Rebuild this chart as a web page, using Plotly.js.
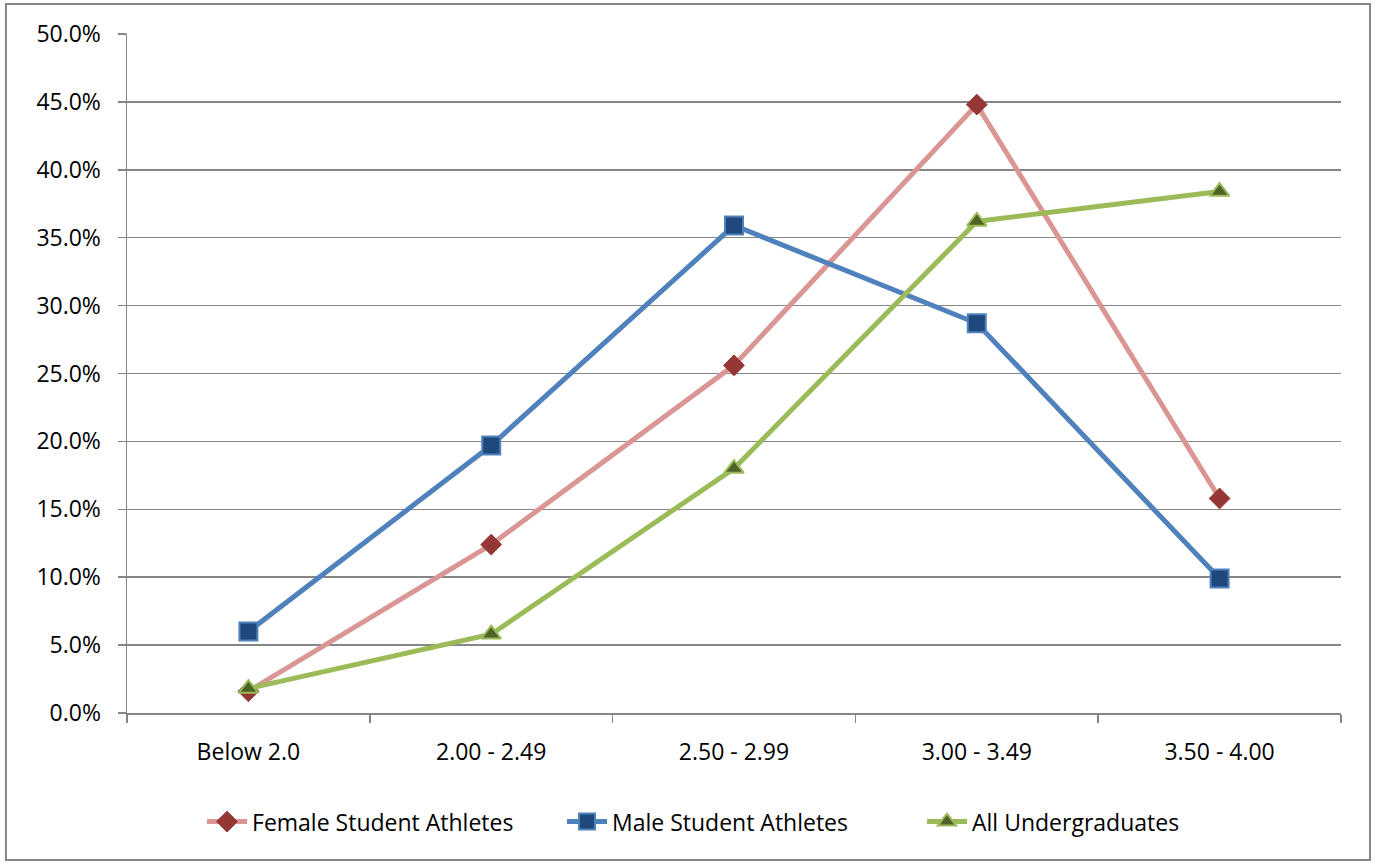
<!DOCTYPE html>
<html>
<head>
<meta charset="utf-8">
<script src="https://cdn.plot.ly/plotly-3.0.1.min.js"></script>
<style>html,body{margin:0;padding:0;background:#fff;}#chart{width:1375px;height:863px;}</style>
</head>
<body>
<div id="chart"></div>
<script>
var categories = ["Below 2.0", "2.00 - 2.49", "2.50 - 2.99", "3.00 - 3.49", "3.50 - 4.00"];
var femaleAthletes = [0.016, 0.124, 0.256, 0.448, 0.158];
var maleAthletes = [0.060, 0.197, 0.359, 0.287, 0.099];
var allUndergrads = [0.018, 0.058, 0.180, 0.362, 0.384];
var yTickValues = [0, 0.05, 0.10, 0.15, 0.20, 0.25, 0.30, 0.35, 0.40, 0.45, 0.50];

var font = "Open Sans, Liberation Sans, sans-serif";
var traces = [
  {x: categories, y: femaleAthletes, name: "Female Student Athletes", type: "scatter", mode: "lines+markers",
   line: {color: "#D99694", width: 5},
   marker: {symbol: "diamond", size: 16, color: "#953735", line: {color: "#953735", width: 1}}},
  {x: categories, y: maleAthletes, name: "Male Student Athletes", type: "scatter", mode: "lines+markers",
   line: {color: "#4F81BD", width: 5},
   marker: {symbol: "square", size: 18, color: "#1F497D", line: {color: "#4F81BD", width: 2}}},
  {x: categories, y: allUndergrads, name: "All Undergraduates", type: "scatter", mode: "lines+markers",
   line: {color: "#9BBB59", width: 5},
   marker: {symbol: "triangle-up", size: 17, color: "#4F6228", line: {color: "#9BBB59", width: 2}}}
];

var layout = {
  width: 1375, height: 863,
  margin: {l: 127, r: 34, t: 34, b: 150},
  paper_bgcolor: "#ffffff", plot_bgcolor: "#ffffff",
  font: {family: font, size: 23, color: "#000000"},
  showlegend: true,
  legend: {orientation: "h", x: 0.5066, xanchor: "center", y: -0.16, yanchor: "middle",
           font: {family: font, size: 23, color: "#000000"}, traceorder: "normal", itemwidth: 40,
           entrywidth: 305},
  xaxis: {type: "category", range: [-0.5, 4.5], showgrid: false, showline: true, linecolor: "#868686", linewidth: 1.5,
          ticks: "outside", tickson: "boundaries", ticklen: 8, tickcolor: "#868686", tickwidth: 1.5,
          ticklabelstandoff: 18, tickfont: {family: font, size: 23, color: "#000"}, fixedrange: true, zeroline: false},
  yaxis: {range: [0, 0.5], tickvals: yTickValues, tickformat: ".1%", showgrid: true, gridcolor: "#868686", gridwidth: 1.5,
          showline: true, linecolor: "#868686", linewidth: 1.5, ticks: "outside", ticklen: 8, tickcolor: "#868686", tickwidth: 1.5,
          ticklabelstandoff: 12, tickfont: {family: font, size: 23, color: "#000"}, zeroline: false, fixedrange: true},
  shapes: [
    {type: "rect", xref: "paper", yref: "paper", x0: -0.0997, x1: 1.0239, y0: -0.2165, y1: 1.0442,
     line: {color: "#868686", width: 2}, fillcolor: "rgba(0,0,0,0)", layer: "below"}
  ]
};

Plotly.newPlot("chart", traces, layout, {displayModeBar: false, staticPlot: true});
</script>
</body>
</html>
